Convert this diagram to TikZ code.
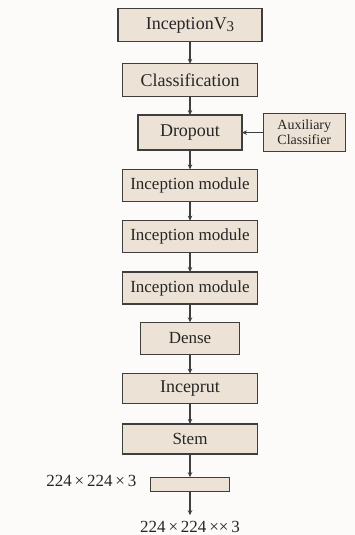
\documentclass[tikz,border=0pt]{standalone}
\usepackage{fontspec}
\setmainfont{Liberation Serif}
\usetikzlibrary{positioning,arrows.meta}
\definecolor{boxfill}{RGB}{236,227,214}
\definecolor{boxline}{RGB}{62,62,62}
\definecolor{paper}{RGB}{252,251,249}

\begin{document}
\begin{tikzpicture}[
  x=1pt, y=1pt,
  node distance=19.3pt,
  block/.style={draw=boxline, line width=1.3pt, fill=boxfill, text=black!85,
    outer sep=0pt, minimum height=32pt, inner sep=2pt, font=\fontsize{17}{20}\selectfont},
  wide/.style={block, minimum width=135pt},
  big/.style={font=\fontsize{18}{21}\selectfont},
  flow/.style={draw=boxline, line width=1.2pt, -{Stealth[length=5pt,width=4.5pt]}},
  dims/.style={text=black!85, font=\fontsize{17}{20}\selectfont}
]
  \fill[paper] (0,0) rectangle (355,-535);
  \useasboundingbox (0,0) rectangle (355,-535);

  % Main column
  \node[block, big, minimum width=144pt, minimum height=33pt] (v3) at (190,-25)
    {InceptionV\raisebox{-0.3ex}{\fontsize{15}{16}\selectfont 3}};
  \node[wide, big, minimum height=33pt, below=22.3pt of v3] (cls) {Classification};
  \node[block, big, minimum width=104pt, minimum height=35pt, below=18.3pt of cls] (drop) {Dropout};
  \node[wide, below=of drop] (im1) {Inception module};
  \node[wide, below=of im1] (im2) {Inception module};
  \node[wide, below=of im2] (im3) {Inception module};
  \node[block, minimum width=99pt, below=18.3pt of im3] (dense) {Dense};
  \node[wide, big, minimum height=30pt, below=of dense] (inc) {Inceprut};
  \node[wide, minimum height=30pt, below=20.3pt of inc] (stem) {Stem};
  \node[block, minimum width=79pt, minimum height=14pt, inner sep=0pt, below=23.3pt of stem] (inp) {};

  % Side branch
  \node[block, minimum width=82pt, minimum height=38pt, align=center,
    font=\fontsize{14}{15}\selectfont, right=21.3pt of drop] (aux) {Auxiliary\\Classifier};

  % Input sizes
  \node[dims, inner sep=0pt, left=14pt of inp, yshift=3pt] (inlbl) {224\,×\,224\,×\,3};
  \node[dims, inner sep=3pt, outer sep=3pt, below=24pt of inp] (outlbl) {224\,×\,224\,××\,3};

  % Connectors
  \draw[flow] (v3) -- (cls);
  \draw[flow] (cls) -- (drop);
  \draw[flow] (drop) -- (im1);
  \draw[flow] (im1) -- (im2);
  \draw[flow] (im2) -- (im3);
  \draw[flow] (im3) -- (dense);
  \draw[flow] (dense) -- (inc);
  \draw[flow] (inc) -- (stem);
  \draw[flow] (stem) -- (inp);
  \draw[flow] (inp) -- (outlbl);
  \draw[flow] (aux) -- (drop);

\end{tikzpicture}
\end{document}
